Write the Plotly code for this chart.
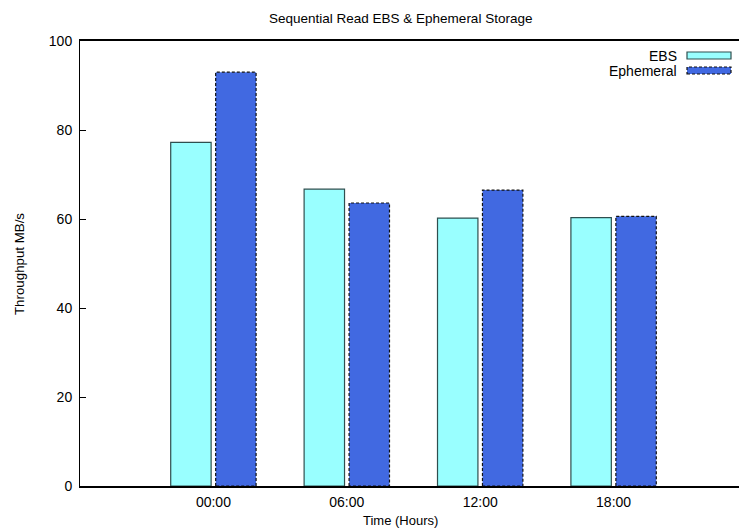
import plotly.graph_objects as go

categories = ["00:00", "06:00", "12:00", "18:00"]
ebs = [77.2, 66.7, 60.2, 60.3]
ephemeral = [93.0, 63.6, 66.5, 60.6]
series_names = ["EBS", "Ephemeral"]
y_ticks = [0, 20, 40, 60, 80, 100]

W, H = 739, 531
L, R, T, B = 80, 0, 41, 45
FONT = "Liberation Sans, Arial, sans-serif"

xpos = list(range(len(categories)))
bar_w = 0.303
ebs_off = -0.32
eph_off = 0.017

fig = go.Figure()
fig.add_trace(go.Bar(
    x=xpos, y=ebs, name=series_names[0], width=bar_w, offset=ebs_off,
    marker=dict(color="#99ffff", line=dict(color="#2f4f4f", width=1.2)),
    showlegend=False,
))
fig.add_trace(go.Bar(
    x=xpos, y=ephemeral, name=series_names[1], width=bar_w, offset=eph_off,
    marker=dict(color="#4169e1", line=dict(width=0)),
    showlegend=False,
))
# dashed outlines for the Ephemeral bars, derived from the data
ox, oy = [], []
for i, v in zip(xpos, ephemeral):
    x0, x1 = i + eph_off, i + eph_off + bar_w
    ox += [x0, x0, x1, x1, x0, None]
    oy += [0, v, v, 0, 0, None]
fig.add_trace(go.Scatter(
    x=ox, y=oy, mode="lines", line=dict(color="#111111", width=1.2, dash="3px,2px"),
    showlegend=False, hoverinfo="skip",
))

fig.update_layout(
    width=W, height=H,
    margin=dict(l=L, r=R, t=T, b=B),
    paper_bgcolor="white", plot_bgcolor="white",
    barmode="overlay",
    font=dict(family=FONT, size=13, color="#000"),
    showlegend=False,
)
fig.update_xaxes(
    range=[-1, 3.94], tickvals=xpos, ticktext=categories,
    showline=True, linecolor="#000", linewidth=1.5, mirror=True,
    ticks="", showgrid=False, zeroline=False,
    tickfont=dict(size=14, family=FONT),
    ticklabelstandoff=2,
)
fig.update_yaxes(
    range=[0, 100], tickvals=y_ticks,
    showline=True, linecolor="#000", linewidth=1, mirror=False,
    ticks="inside", ticklen=6, tickcolor="#000", tickwidth=1,
    showgrid=False, zeroline=False,
    tickfont=dict(size=14, family=FONT),
    ticklabelstandoff=4,
)

pw = W - L - R
ph = H - T - B
def px(x):
    return (x - L) / pw
def py(y):
    return (H - B - y) / ph

def ann(text, x, y, size=13.5, xanchor="center", angle=0):
    return dict(text=text, x=px(x), y=py(y), xref="paper", yref="paper",
                xanchor=xanchor, yanchor="middle", showarrow=False,
                textangle=angle, font=dict(size=size))

annotations = [
    ann("Sequential Read EBS &amp; Ephemeral Storage", 400, 18),
    ann("Time (Hours)", 400, 520, size=13),
    ann("Throughput MB/s", 19, 264, size=13.3, angle=-90),
    ann(series_names[0], 679, 55.5, xanchor="right", size=14),
    ann(series_names[1], 679, 70.5, xanchor="right", size=14),
]
fig.update_layout(annotations=annotations)

shapes = [
    dict(type="rect", xref="paper", yref="paper", x0=px(687), x1=px(731), y0=py(59), y1=py(52),
         fillcolor="#99ffff", line=dict(color="#2f4f4f", width=1.2)),
    dict(type="rect", xref="paper", yref="paper", x0=px(687), x1=px(731), y0=py(74), y1=py(67),
         fillcolor="#4169e1", line=dict(color="#111111", width=1.2, dash="3px,2px")),
]
fig.update_layout(shapes=shapes)

fig.write_html("out.html")
